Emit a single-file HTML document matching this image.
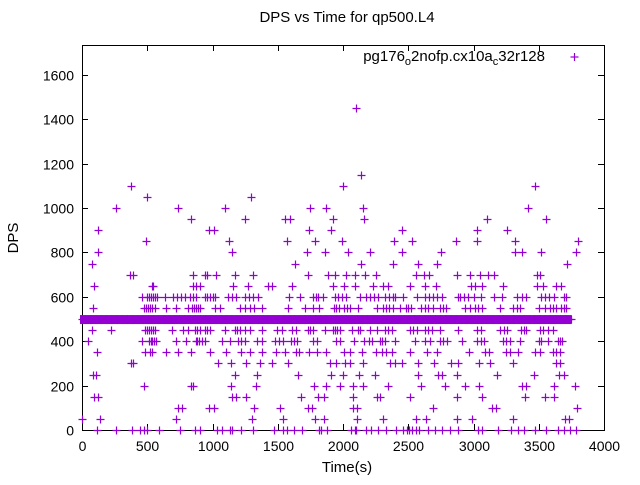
<!DOCTYPE html>
<html><head><meta charset="utf-8"><style>
body{margin:0;background:#fff}
svg text{font-family:"Liberation Sans",sans-serif;fill:#000}
</style></head><body>
<svg id="chart" width="640" height="480" viewBox="0 0 640 480" xmlns="http://www.w3.org/2000/svg">
<rect width="640" height="480" fill="#fff"/>
<text x="347" y="22" font-size="15" text-anchor="middle">DPS vs Time for qp500.L4</text>
<text transform="translate(18,238) rotate(-90)" font-size="15" text-anchor="middle">DPS</text>
<text x="347" y="472" font-size="15" text-anchor="middle">Time(s)</text>
<g id="axes"></g>
<g id="marks"></g>
<g>
<text x="545" y="61" font-size="15" text-anchor="end">pg176<tspan font-size="11" dy="4">o</tspan><tspan dy="-4">2nofp.cx10a</tspan><tspan font-size="11" dy="4">c</tspan><tspan dy="-4">32r128</tspan></text>
<g stroke="#9400d3" stroke-width="1.2"><line x1="570.5" y1="57" x2="578.5" y2="57"/><line x1="574.5" y1="53" x2="574.5" y2="61"/></g>
</g>
</svg>
<script>
const xTicks=[0,500,1000,1500,2000,2500,3000,3500,4000];
const yTicks=[0,200,400,600,800,1000,1200,1400,1600];
const dpsLevels=[1450,1150,1100,1050,1000,950,900,850,800,750,700,650,600,550,450,400,350,300,250,200,150,100,50,0];
const timesByLevel=[
[2100],
[2140],
[375,2000,3470],
[500,1295],
[260,735,1095,1750,1870,2150,3420],
[835,1250,1555,1595,1920,2160,3100,3555],
[120,970,1010,1740,1905,2450,3025,3255],
[490,1125,1570,1785,1990,2390,2525,2865,3030,3315,3800],
[120,1150,1725,1860,2040,2205,2450,2750,3315,3370,3515,3785],
[75,1630,2135,2380,2575,2720,3720],
[370,390,850,940,955,1025,1170,1310,1730,1885,1940,2020,2090,2165,2255,2560,2620,2660,2875,2970,3050,3110,3155,3490,3510],
[90,535,545,850,870,905,1160,1270,1425,1455,1610,1920,2005,2090,2230,2305,2345,2510,2630,2710,2980,3010,3065,3225,3490,3530,3630,3670],
[460,500,515,530,545,560,575,635,700,730,760,790,830,850,870,940,960,980,1000,1020,1120,1150,1180,1250,1280,1310,1350,1590,1670,1770,1790,1810,1845,1940,1960,1990,2020,2130,2180,2210,2240,2270,2320,2350,2380,2400,2460,2570,2630,2660,2690,2720,2760,2880,2900,2930,2960,3000,3060,3160,3220,3330,3370,3400,3515,3550,3580,3620,3690,3710],
[85,475,490,505,520,535,560,640,720,810,845,860,875,890,905,1020,1055,1210,1250,1290,1320,1380,1580,1710,1770,1815,1930,1950,1970,2010,2030,2050,2115,2260,2310,2330,2350,2380,2440,2480,2500,2520,2600,2625,2650,2690,2740,2765,2790,2935,2970,3010,3035,3065,3200,3300,3330,3355,3500,3545,3590,3610,3630,3670,3690,3710],
[75,220,485,500,515,530,545,560,690,775,810,865,885,905,940,960,980,1095,1170,1190,1210,1250,1290,1380,1495,1530,1610,1640,1730,1750,1770,1860,1920,1940,1955,1975,2070,2115,2130,2205,2260,2320,2345,2375,2510,2540,2570,2630,2655,2680,2745,2880,3030,3060,3200,3230,3260,3365,3385,3400,3510,3530,3570,3610],
[45,460,510,525,540,555,565,720,800,870,885,900,920,940,1070,1135,1195,1220,1250,1340,1380,1480,1510,1540,1600,1625,1650,1770,1800,1945,1980,2085,2160,2200,2220,2280,2300,2320,2400,2550,2630,2665,2745,2770,2800,2910,3030,3055,3080,3225,3250,3280,3355,3500,3515,3570,3645,3665,3680],
[115,485,520,535,645,735,835,980,1100,1220,1290,1380,1485,1555,1640,1660,1740,1800,1870,2005,2050,2145,2255,2300,2330,2375,2510,2645,2720,2965,3085,3115,3250,3280,3340,3470,3510,3610,3635,3660],
[375,390,1040,1140,1255,1365,1455,1580,1900,1945,2015,2050,2150,2360,2400,2450,2575,2695,2825,2880,3040,3130,3300,3630,3660],
[85,105,1170,1340,1655,1910,2000,2120,2245,2575,2725,2760,2875,3180,3460,3655,3695],
[475,835,850,1140,1335,1780,1870,1975,2075,2150,2345,2600,2780,2935,3040,3370,3400,3620,3780],
[90,120,1150,1180,1255,1680,1810,1855,2075,2260,2280,2510,2875,3065,3395,3550,3620],
[735,765,970,1010,1320,1515,1730,1760,2080,2110,2690,3145,3170,3790],
[0,140,720,1305,1540,1785,1855,2105,2310,2560,2635,2870,2990,3300,3700,3730],
[115,260,380,445,475,500,590,750,865,905,1035,1075,1135,1150,1220,1310,1470,1540,1570,1625,1685,1815,1830,1875,2060,2090,2100,2180,2215,2270,2330,2405,2460,2490,2505,2530,2560,2580,2650,2705,2760,2820,2880,3035,3065,3185,3285,3340,3385,3475,3555,3645,3690,3740,3785]
];
const bandValue=500;
const bandTimes=[0,40,80,120,160,200,240,280,320,360,400,440,480,520,560,600,640,680,720,760,800,840,880,920,960,1000,1040,1080,1120,1160,1200,1240,1280,1320,1360,1400,1440,1480,1520,1560,1600,1640,1680,1720,1760,1800,1840,1880,1920,1960,2000,2040,2080,2120,2160,2200,2240,2280,2320,2360,2400,2440,2480,2520,2560,2600,2640,2680,2720,2760,2800,2840,2880,2920,2960,3000,3040,3080,3120,3160,3200,3240,3280,3320,3360,3400,3440,3480,3520,3560,3600,3640,3680,3720];

const L=82,R=604,T=45,B=430,XMAX=4000,YMAX=1735;
const xs=t=>L+t/XMAX*(R-L);
const ys=v=>B-v/YMAX*(B-T);
const NS="http://www.w3.org/2000/svg";
const axes=document.getElementById('axes');
const marks=document.getElementById('marks');
function mk(tag,attrs,parent){const e=document.createElementNS(NS,tag);for(const k in attrs)e.setAttribute(k,attrs[k]);parent.appendChild(e);return e;}
const frame=mk('rect',{x:L+0.5,y:T+0.5,width:R-L,height:B-T,fill:'none',stroke:'#000','stroke-width':1},axes);


xTicks.forEach(t=>{
  const x=Math.round(xs(t))+0.5;
  mk('line',{x1:x,y1:B,x2:x,y2:B-6,stroke:'#000'},axes);
  mk('line',{x1:x,y1:T,x2:x,y2:T+6,stroke:'#000'},axes);
  const tx=mk('text',{x:x,y:B+21,'font-size':14,'text-anchor':'middle'},axes);
  tx.textContent=t;
  
  
});
yTicks.forEach(v=>{
  const y=Math.round(ys(v))+0.5;
  mk('line',{x1:L,y1:y,x2:L+6,y2:y,stroke:'#000'},axes);
  mk('line',{x1:R,y1:y,x2:R-6,y2:y,stroke:'#000'},axes);
  const tx=mk('text',{x:L-8,y:y+5,'font-size':14,'text-anchor':'end'},axes);
  tx.textContent=v;
  
  
});
function cross(t,v){
  const x=Math.round(xs(t))+0.5,y=Math.round(ys(v))+0.5;
  const g=mk('path',{d:`M${x-4} ${y}H${x+4}M${x} ${y-4}V${y+4}`,stroke:'#9400d3','stroke-width':1.2,fill:'none'},marks);
  
  
}
bandTimes.forEach(t=>{cross(t,bandValue);cross(t+13,bandValue);cross(t+26,bandValue);});
bandTimes.forEach(t=>{
  const x1=xs(t),y=ys(bandValue);
  const r=mk('rect',{x:x1-2,y:y-4,width:(R-L)*40/XMAX+1,height:9,fill:'#9400d3'},marks);
  
  
});
dpsLevels.forEach((v,i)=>timesByLevel[i].forEach(t=>cross(t,v)));
</script>
</body></html>
